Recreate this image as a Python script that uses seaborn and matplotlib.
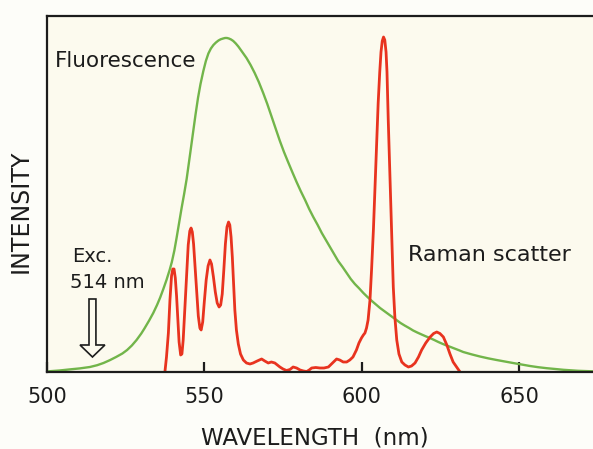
import numpy as np
import pandas as pd
import matplotlib
matplotlib.use("Agg")
import matplotlib.pyplot as plt
from matplotlib.patches import FancyArrow
import seaborn as sns

# Fluorescence emission (arbitrary intensity units)
fluor_wl = [500, 501, 504, 507, 510.5, 513.7, 516, 518, 520, 522, 524, 525.5, 527, 528.5, 530,
            531, 532.5, 533.8, 535, 536, 537, 538, 539, 539.7, 540.5, 541.2, 542, 542.8, 543.6,
            544.4, 545.5, 546.5, 547.2, 548, 548.8, 549.7, 550.5, 551.3, 552.1, 552.9, 553.7,
            554.5, 555.2, 556, 556.6, 557.2, 557.8, 558.5, 559.2, 560, 560.8, 561.6, 562.5,
            563.4, 564.7, 566, 567.3, 568.7, 570, 571.3, 572.7, 574, 575.3, 576.6, 578, 579.3,
            580.6, 582, 583.3, 584.6, 586, 587.3, 588.6, 589.9, 591.2, 592.5, 593.9, 595.2,
            596.5, 597.8, 599.2, 600.5, 601.8, 603.2, 604.5, 605.8, 607.1, 608.4, 609.7, 611,
            612.3, 613.6, 615, 616.3, 617.6, 619, 620.3, 621.6, 623, 624.3, 625.6, 626.9,
            628.2, 629.5, 630.9, 632.2, 634.9, 637.5, 640.2, 642.8, 645.4, 648, 650.7, 653.4,
            656, 658.7, 661.4, 664, 668.7, 674]
fluor_int = [0.5, 0.8, 1.5, 2.5, 3.6, 5, 6.8, 9, 11.8, 15, 18.5, 22, 26.5, 32, 38.5,
             43.5, 51.5, 59, 67, 74.5, 83, 92, 102, 110, 121.5, 134, 149, 164, 178,
             193, 218, 241, 257, 274, 288, 301, 311, 318.5, 323.5, 327, 329.5,
             331.5, 332.7, 333.5, 334, 334, 333.5, 332.5, 331, 328.5, 325.5, 322, 318,
             314, 307, 299, 290, 279, 268, 256, 243, 231, 220, 210, 199.5, 190,
             181, 172, 163, 155, 147, 139, 132, 125, 118, 111, 105, 99,
             93, 88, 83.5, 79, 75, 71, 67.5, 64, 61, 58, 55, 52,
             49, 46.5, 44, 41.5, 39.5, 37.5, 35.7, 34, 32, 30, 28.2, 26.5,
             25, 23.4, 21.7, 20, 17.6, 15.5, 13.6, 12, 10.5, 9, 7.5, 6,
             4.8, 3.8, 3, 2.2, 1.2, 0.6]

# Raman scattering spectrum (arbitrary intensity units)
raman_wl = [537.5, 538.0, 538.6, 539.1, 539.6, 540.0, 540.4, 540.8, 541.2, 541.6, 542.0, 542.5,
            542.9, 543.3, 543.8, 544.4, 544.9, 545.4, 545.8, 546.2, 546.6, 547.1, 547.6, 548.1,
            548.6, 549.0, 549.5, 550.0, 550.6, 551.2, 551.8, 552.3, 552.9, 553.5, 554.1, 554.7,
            555.2, 555.7, 556.2, 556.7, 557.2, 557.7, 558.1, 558.5, 558.9, 559.3, 559.7, 560.2,
            560.8, 561.5, 562.4, 563.4, 564.5, 565.5, 566.8, 568.2, 569.2, 570.3, 571.3, 572.4,
            573.2, 574.0, 575.0, 576.1, 577.2, 578.2, 579.3, 580.4, 581.5, 582.5, 583.3, 584.1,
            585.4, 586.7, 588.0, 589.4, 590.7, 592.0, 593.0, 594.1, 595.2, 596.2, 597.2, 598.3,
            599.1, 599.9, 600.5, 601.0, 601.5, 602.0, 602.6, 603.1, 603.7, 604.2, 604.7, 605.2,
            605.7, 606.1, 606.5, 606.9, 607.3, 607.7, 608.0, 608.4, 608.8, 609.2, 609.6, 610.0,
            610.5, 611.1, 611.8, 612.7, 613.7, 614.8, 615.8, 616.9, 618.0, 619.0, 620.3, 621.7,
            622.8, 623.8, 624.8, 625.9, 627.0, 628.0, 629.0, 630.1, 631.2]
raman_int = [0, 15, 39, 72, 96, 103, 103, 94, 76, 52, 30, 17,
             18, 32, 62, 100, 127, 141, 144, 140, 128, 104, 79, 56,
             44, 42, 50, 70, 92, 106, 112, 108, 95, 80, 69, 65,
             67, 78, 102, 128, 145, 150, 147, 135, 115, 88, 62, 42,
             28, 18, 12, 9, 8, 9, 11, 13, 11, 9, 10, 9,
             7, 5, 3, 1.5, 2.5, 5, 4, 2, 1, 0.5, 2, 4,
             4.5, 4, 4, 5, 9, 13, 12, 10, 10, 12, 15, 22,
             29, 34, 37, 39, 44, 52, 72, 102, 143, 185, 228, 269,
             300, 320, 331, 335, 332, 320, 300, 252, 210, 169, 127, 85,
             55, 32, 18, 10, 7, 5, 6, 9, 15, 22, 29, 35,
             38.5, 40, 38.5, 35, 27, 18, 10, 5, 0]

x_ticks = [500, 550, 600, 650]

bg = "#fcfaee"
ink = "#1c1c1c"
green = "#72b54a"
red = "#e8331f"

sns.set_style("ticks")
plt.rcParams["font.family"] = ["DejaVu Sans"]

fig = plt.figure(figsize=(5.93, 4.49), dpi=100, facecolor="#fdfdf9")
ax = fig.add_axes([0.0789, 0.1715, 0.9211, 0.7929])
ax.set_facecolor(bg)

fluor = pd.DataFrame({"wavelength": fluor_wl, "intensity": fluor_int})
raman = pd.DataFrame({"wavelength": raman_wl, "intensity": raman_int})

sns.lineplot(data=fluor, x="wavelength", y="intensity", ax=ax, color=green, lw=1.7)
sns.lineplot(data=raman, x="wavelength", y="intensity", ax=ax, color=red, lw=2.0)

ax.set_xlim(500, 673.4)
ax.set_ylim(0, 356)

# axis frame: left, top and bottom only
for side in ("left", "top", "bottom"):
    ax.spines[side].set_visible(True)
    ax.spines[side].set_linewidth(1.6)
    ax.spines[side].set_color(ink)
ax.spines["right"].set_visible(False)

ax.set_xticks(x_ticks)
ax.set_xticklabels([str(t) for t in x_ticks])
ax.tick_params(axis="x", direction="in", length=7, width=1.6, pad=11,
               labelsize=15, colors=ink)
ax.set_yticks([])

ax.set_xlabel("WAVELENGTH  (nm)", fontsize=16.5, color=ink, va="center")
ax.xaxis.set_label_coords(0.491, -0.185)
ax.set_ylabel("INTENSITY", fontsize=17, color=ink, va="center")
ax.yaxis.set_label_coords(-0.047, 0.452)

ax.text(502.6, 311, "Fluorescence", fontsize=15.5, color=ink, va="center", ha="left")
ax.text(614.7, 117, "Raman scatter", fontsize=16, color=ink, va="center", ha="left")
ax.text(508, 115, "Exc.", fontsize=14, color=ink, va="center", ha="left")
ax.text(507.4, 89, "514 nm", fontsize=14, color=ink, va="center", ha="left")

# hollow arrow marking the excitation line
ax.add_patch(FancyArrow(514.5, 73, 0, -58, width=2.2, head_width=7.9, head_length=12,
                        length_includes_head=True, facecolor=bg, edgecolor=ink, lw=1.2))

fig.savefig("out.png", dpi=100, facecolor=fig.get_facecolor())
